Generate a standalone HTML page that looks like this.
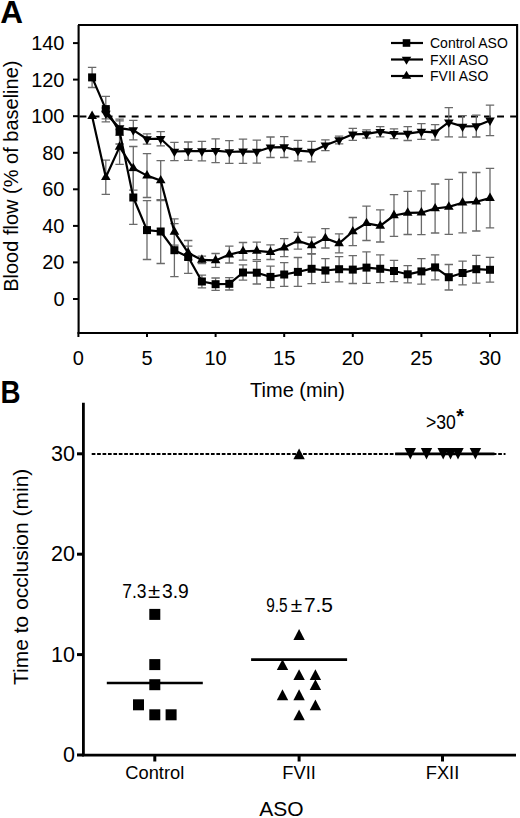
<!DOCTYPE html>
<html><head><meta charset="utf-8"><style>
html,body{margin:0;padding:0;background:#fff;}
svg{display:block;}
text{font-family:"Liberation Sans",sans-serif;font-size:20px;fill:#000;}
</style></head><body>
<svg width="520" height="818" viewBox="0 0 520 818">
<rect width="520" height="818" fill="#fff"/>
<line x1="79.5" y1="116.5" x2="516.5" y2="116.5" stroke="#000" stroke-width="2" stroke-dasharray="6.9 6.15"/>
<g stroke="#6a6a6a" stroke-width="1.3" fill="none">
<path d="M92.1 67.4V87.5M87.9 67.4h8.4M87.9 87.5h8.4"/>
<path d="M105.8 96.3V121.9M101.6 96.3h8.4M101.6 121.9h8.4"/>
<path d="M119.6 119.1V144.0M115.4 119.1h8.4M115.4 144.0h8.4"/>
<path d="M133.3 170.7V224.4M129.1 170.7h8.4M129.1 224.4h8.4"/>
<path d="M147.0 200.7V259.5M142.8 200.7h8.4M142.8 259.5h8.4"/>
<path d="M160.7 199.6V263.5M156.5 199.6h8.4M156.5 263.5h8.4"/>
<path d="M174.4 223.7V276.7M170.2 223.7h8.4M170.2 276.7h8.4"/>
<path d="M188.2 240.5V273.4M184.0 240.5h8.4M184.0 273.4h8.4"/>
<path d="M201.9 275.1V287.8M197.7 275.1h8.4M197.7 287.8h8.4"/>
<path d="M215.6 278.0V290.4M211.4 278.0h8.4M211.4 290.4h8.4"/>
<path d="M229.3 277.6V290.0M225.1 277.6h8.4M225.1 290.0h8.4"/>
<path d="M243.0 264.8V280.2M238.8 264.8h8.4M238.8 280.2h8.4"/>
<path d="M256.8 261.3V284.0M252.6 261.3h8.4M252.6 284.0h8.4"/>
<path d="M270.5 266.1V287.7M266.3 266.1h8.4M266.3 287.7h8.4"/>
<path d="M284.2 262.6V286.4M280.0 262.6h8.4M280.0 286.4h8.4"/>
<path d="M297.9 257.5V286.4M293.7 257.5h8.4M293.7 286.4h8.4"/>
<path d="M311.6 254.0V283.6M307.4 254.0h8.4M307.4 283.6h8.4"/>
<path d="M325.4 258.6V282.4M321.2 258.6h8.4M321.2 282.4h8.4"/>
<path d="M339.1 256.6V281.8M334.9 256.6h8.4M334.9 281.8h8.4"/>
<path d="M352.8 255.7V283.5M348.6 255.7h8.4M348.6 283.5h8.4"/>
<path d="M366.5 251.8V283.3M362.3 251.8h8.4M362.3 283.3h8.4"/>
<path d="M380.2 254.9V282.7M376.0 254.9h8.4M376.0 282.7h8.4"/>
<path d="M394.0 260.4V281.6M389.8 260.4h8.4M389.8 281.6h8.4"/>
<path d="M407.7 265.7V282.9M403.5 265.7h8.4M403.5 282.9h8.4"/>
<path d="M421.4 258.6V284.2M417.2 258.6h8.4M417.2 284.2h8.4"/>
<path d="M435.1 254.9V279.8M430.9 254.9h8.4M430.9 279.8h8.4"/>
<path d="M448.8 264.5V290.0M444.6 264.5h8.4M444.6 290.0h8.4"/>
<path d="M462.6 261.2V284.9M458.4 261.2h8.4M458.4 284.9h8.4"/>
<path d="M476.3 255.3V283.1M472.1 255.3h8.4M472.1 283.1h8.4"/>
<path d="M490.0 257.3V282.2M485.8 257.3h8.4M485.8 282.2h8.4"/>
<path d="M105.8 108.0V118.9M101.6 108.0h8.4M101.6 118.9h8.4"/>
<path d="M119.6 120.8V135.4M115.4 120.8h8.4M115.4 135.4h8.4"/>
<path d="M133.3 120.4V139.8M129.1 120.4h8.4M129.1 139.8h8.4"/>
<path d="M147.0 133.9V144.2M142.8 133.9h8.4M142.8 144.2h8.4"/>
<path d="M160.7 131.6V145.8M156.5 131.6h8.4M156.5 145.8h8.4"/>
<path d="M174.4 142.3V160.6M170.2 142.3h8.4M170.2 160.6h8.4"/>
<path d="M188.2 142.0V160.3M184.0 142.0h8.4M184.0 160.3h8.4"/>
<path d="M201.9 141.4V160.8M197.7 141.4h8.4M197.7 160.8h8.4"/>
<path d="M215.6 138.9V162.6M211.4 138.9h8.4M211.4 162.6h8.4"/>
<path d="M229.3 140.7V163.4M225.1 140.7h8.4M225.1 163.4h8.4"/>
<path d="M243.0 139.2V163.4M238.8 139.2h8.4M238.8 163.4h8.4"/>
<path d="M256.8 140.1V163.2M252.6 140.1h8.4M252.6 163.2h8.4"/>
<path d="M270.5 137.0V157.5M266.3 137.0h8.4M266.3 157.5h8.4"/>
<path d="M284.2 136.7V157.5M280.0 136.7h8.4M280.0 157.5h8.4"/>
<path d="M297.9 140.3V160.8M293.7 140.3h8.4M293.7 160.8h8.4"/>
<path d="M311.6 141.4V161.9M307.4 141.4h8.4M307.4 161.9h8.4"/>
<path d="M325.4 139.8V150.7M321.2 139.8h8.4M321.2 150.7h8.4"/>
<path d="M339.1 136.1V143.8M334.9 136.1h8.4M334.9 143.8h8.4"/>
<path d="M352.8 128.3V140.3M348.6 128.3h8.4M348.6 140.3h8.4"/>
<path d="M366.5 129.9V138.0M362.3 129.9h8.4M362.3 138.0h8.4"/>
<path d="M380.2 126.6V136.9M376.0 126.6h8.4M376.0 136.9h8.4"/>
<path d="M394.0 128.8V138.7M389.8 128.8h8.4M389.8 138.7h8.4"/>
<path d="M407.7 126.6V140.5M403.5 126.6h8.4M403.5 140.5h8.4"/>
<path d="M421.4 123.7V139.4M417.2 123.7h8.4M417.2 139.4h8.4"/>
<path d="M435.1 124.6V140.0M430.9 124.6h8.4M430.9 140.0h8.4"/>
<path d="M448.8 107.6V136.9M444.6 107.6h8.4M444.6 136.9h8.4"/>
<path d="M462.6 115.7V137.2M458.4 115.7h8.4M458.4 137.2h8.4"/>
<path d="M476.3 115.1V137.0M472.1 115.1h8.4M472.1 137.0h8.4"/>
<path d="M490.0 105.2V135.6M485.8 105.2h8.4M485.8 135.6h8.4"/>
<path d="M105.8 160.1V194.4M101.6 160.1h8.4M101.6 194.4h8.4"/>
<path d="M119.6 129.5V164.3M115.4 129.5h8.4M115.4 164.3h8.4"/>
<path d="M133.3 146.5V190.1M129.1 146.5h8.4M129.1 190.1h8.4"/>
<path d="M147.0 153.7V197.5M142.8 153.7h8.4M142.8 197.5h8.4"/>
<path d="M160.7 160.6V200.5M156.5 160.6h8.4M156.5 200.5h8.4"/>
<path d="M174.4 218.8V245.1M170.2 218.8h8.4M170.2 245.1h8.4"/>
<path d="M188.2 246.2V259.7M184.0 246.2h8.4M184.0 259.7h8.4"/>
<path d="M201.9 256.2V263.5M197.7 256.2h8.4M197.7 263.5h8.4"/>
<path d="M215.6 253.5V267.4M211.4 253.5h8.4M211.4 267.4h8.4"/>
<path d="M229.3 246.2V263.0M225.1 246.2h8.4M225.1 263.0h8.4"/>
<path d="M243.0 242.5V260.1M238.8 242.5h8.4M238.8 260.1h8.4"/>
<path d="M256.8 242.1V259.7M252.6 242.1h8.4M252.6 259.7h8.4"/>
<path d="M270.5 244.9V259.5M266.3 244.9h8.4M266.3 259.5h8.4"/>
<path d="M284.2 238.7V256.6M280.0 238.7h8.4M280.0 256.6h8.4"/>
<path d="M297.9 232.3V249.1M293.7 232.3h8.4M293.7 249.1h8.4"/>
<path d="M311.6 237.2V253.7M307.4 237.2h8.4M307.4 253.7h8.4"/>
<path d="M325.4 228.6V248.0M321.2 228.6h8.4M321.2 248.0h8.4"/>
<path d="M339.1 233.9V252.9M334.9 233.9h8.4M334.9 252.9h8.4"/>
<path d="M352.8 217.5V245.6M348.6 217.5h8.4M348.6 245.6h8.4"/>
<path d="M366.5 206.1V240.5M362.3 206.1h8.4M362.3 240.5h8.4"/>
<path d="M380.2 209.8V242.0M376.0 209.8h8.4M376.0 242.0h8.4"/>
<path d="M394.0 194.6V236.3M389.8 194.6h8.4M389.8 236.3h8.4"/>
<path d="M407.7 191.3V234.5M403.5 191.3h8.4M403.5 234.5h8.4"/>
<path d="M421.4 190.8V234.7M417.2 190.8h8.4M417.2 234.7h8.4"/>
<path d="M435.1 184.0V233.0M430.9 184.0h8.4M430.9 233.0h8.4"/>
<path d="M448.8 179.4V234.3M444.6 179.4h8.4M444.6 234.3h8.4"/>
<path d="M462.6 172.5V232.8M458.4 172.5h8.4M458.4 232.8h8.4"/>
<path d="M476.3 172.5V231.0M472.1 172.5h8.4M472.1 231.0h8.4"/>
<path d="M490.0 168.3V227.9M485.8 168.3h8.4M485.8 227.9h8.4"/>
</g>
<g stroke="#000" stroke-width="2.2" fill="none" stroke-linejoin="round">
<polyline points="92.1,77.4 105.8,109.1 119.6,131.6 133.3,197.5 147.0,230.1 160.7,231.5 174.4,250.2 188.2,257.0 201.9,281.5 215.6,284.2 229.3,283.8 243.0,272.5 256.8,272.7 270.5,276.9 284.2,274.5 297.9,271.9 311.6,268.8 325.4,270.5 339.1,269.2 352.8,269.6 366.5,267.6 380.2,268.8 394.0,271.0 407.7,274.3 421.4,271.4 435.1,267.4 448.8,277.2 462.6,273.0 476.3,269.2 490.0,269.8"/>
<polyline points="105.8,113.5 119.6,128.1 133.3,130.1 147.0,139.0 160.7,138.7 174.4,151.5 188.2,151.1 201.9,151.1 215.6,150.7 229.3,152.0 243.0,151.3 256.8,151.7 270.5,147.3 284.2,147.1 297.9,150.6 311.6,151.7 325.4,145.3 339.1,140.0 352.8,134.3 366.5,133.9 380.2,131.7 394.0,133.7 407.7,133.6 421.4,131.6 435.1,132.3 448.8,122.2 462.6,126.4 476.3,126.1 490.0,120.4"/>
<polyline points="92.1,116.2 105.8,177.3 119.6,146.9 133.3,168.3 147.0,175.6 160.7,180.5 174.4,231.9 188.2,252.9 201.9,259.9 215.6,260.4 229.3,254.6 243.0,251.3 256.8,250.9 270.5,252.2 284.2,247.6 297.9,240.7 311.6,245.4 325.4,238.3 339.1,243.4 352.8,231.5 366.5,223.3 380.2,225.9 394.0,215.5 407.7,212.9 421.4,212.7 435.1,208.5 448.8,206.9 462.6,202.7 476.3,201.8 490.0,198.1"/>
</g>
<g fill="#000">
<rect x="88.1" y="73.4" width="8" height="8"/>
<rect x="101.8" y="105.1" width="8" height="8"/>
<rect x="115.6" y="127.6" width="8" height="8"/>
<rect x="129.3" y="193.5" width="8" height="8"/>
<rect x="143.0" y="226.1" width="8" height="8"/>
<rect x="156.7" y="227.5" width="8" height="8"/>
<rect x="170.4" y="246.2" width="8" height="8"/>
<rect x="184.2" y="253.0" width="8" height="8"/>
<rect x="197.9" y="277.5" width="8" height="8"/>
<rect x="211.6" y="280.2" width="8" height="8"/>
<rect x="225.3" y="279.8" width="8" height="8"/>
<rect x="239.0" y="268.5" width="8" height="8"/>
<rect x="252.8" y="268.7" width="8" height="8"/>
<rect x="266.5" y="272.9" width="8" height="8"/>
<rect x="280.2" y="270.5" width="8" height="8"/>
<rect x="293.9" y="267.9" width="8" height="8"/>
<rect x="307.6" y="264.8" width="8" height="8"/>
<rect x="321.4" y="266.5" width="8" height="8"/>
<rect x="335.1" y="265.2" width="8" height="8"/>
<rect x="348.8" y="265.6" width="8" height="8"/>
<rect x="362.5" y="263.6" width="8" height="8"/>
<rect x="376.2" y="264.8" width="8" height="8"/>
<rect x="390.0" y="267.0" width="8" height="8"/>
<rect x="403.7" y="270.3" width="8" height="8"/>
<rect x="417.4" y="267.4" width="8" height="8"/>
<rect x="431.1" y="263.4" width="8" height="8"/>
<rect x="444.8" y="273.2" width="8" height="8"/>
<rect x="458.6" y="269.0" width="8" height="8"/>
<rect x="472.3" y="265.2" width="8" height="8"/>
<rect x="486.0" y="265.8" width="8" height="8"/>
<path d="M105.84 119.06L110.64 110.66H101.04Z"/>
<path d="M119.56 133.68L124.36 125.28H114.76Z"/>
<path d="M133.28 135.69L138.08 127.29H128.48Z"/>
<path d="M147.00 144.65L151.80 136.25H142.20Z"/>
<path d="M160.72 144.28L165.52 135.88H155.92Z"/>
<path d="M174.44 157.08L179.24 148.68H169.64Z"/>
<path d="M188.16 156.71L192.96 148.31H183.36Z"/>
<path d="M201.88 156.71L206.68 148.31H197.08Z"/>
<path d="M215.60 156.35L220.40 147.95H210.80Z"/>
<path d="M229.32 157.63L234.12 149.23H224.52Z"/>
<path d="M243.04 156.90L247.84 148.50H238.24Z"/>
<path d="M256.76 157.26L261.56 148.86H251.96Z"/>
<path d="M270.48 152.88L275.28 144.48H265.68Z"/>
<path d="M284.20 152.69L289.00 144.29H279.40Z"/>
<path d="M297.92 156.17L302.72 147.77H293.12Z"/>
<path d="M311.64 157.26L316.44 148.86H306.84Z"/>
<path d="M325.36 150.87L330.16 142.47H320.56Z"/>
<path d="M339.08 145.56L343.88 137.16H334.28Z"/>
<path d="M352.80 139.90L357.60 131.50H348.00Z"/>
<path d="M366.52 139.53L371.32 131.13H361.72Z"/>
<path d="M380.24 137.34L385.04 128.94H375.44Z"/>
<path d="M393.96 139.35L398.76 130.95H389.16Z"/>
<path d="M407.68 139.17L412.48 130.77H402.88Z"/>
<path d="M421.40 137.16L426.20 128.76H416.60Z"/>
<path d="M435.12 137.89L439.92 129.49H430.32Z"/>
<path d="M448.84 127.83L453.64 119.43H444.04Z"/>
<path d="M462.56 132.04L467.36 123.64H457.76Z"/>
<path d="M476.28 131.67L481.08 123.27H471.48Z"/>
<path d="M490.00 126.00L494.80 117.60H485.20Z"/>
<path d="M92.12 110.60L96.92 119.00H87.32Z"/>
<path d="M105.84 171.66L110.64 180.06H101.04Z"/>
<path d="M119.56 141.31L124.36 149.71H114.76Z"/>
<path d="M133.28 162.70L138.08 171.10H128.48Z"/>
<path d="M147.00 170.01L151.80 178.41H142.20Z"/>
<path d="M160.72 174.95L165.52 183.35H155.92Z"/>
<path d="M174.44 226.31L179.24 234.71H169.64Z"/>
<path d="M188.16 247.33L192.96 255.73H183.36Z"/>
<path d="M201.88 254.28L206.68 262.68H197.08Z"/>
<path d="M215.60 254.83L220.40 263.23H210.80Z"/>
<path d="M229.32 248.98L234.12 257.38H224.52Z"/>
<path d="M243.04 245.69L247.84 254.09H238.24Z"/>
<path d="M256.76 245.32L261.56 253.72H251.96Z"/>
<path d="M270.48 246.60L275.28 255.00H265.68Z"/>
<path d="M284.20 242.03L289.00 250.43H279.40Z"/>
<path d="M297.92 235.09L302.72 243.49H293.12Z"/>
<path d="M311.64 239.84L316.44 248.24H306.84Z"/>
<path d="M325.36 232.71L330.16 241.11H320.56Z"/>
<path d="M339.08 237.83L343.88 246.23H334.28Z"/>
<path d="M352.80 225.95L357.60 234.35H348.00Z"/>
<path d="M366.52 217.72L371.32 226.12H361.72Z"/>
<path d="M380.24 220.28L385.04 228.68H375.44Z"/>
<path d="M393.96 209.86L398.76 218.26H389.16Z"/>
<path d="M407.68 207.30L412.48 215.70H402.88Z"/>
<path d="M421.40 207.12L426.20 215.52H416.60Z"/>
<path d="M435.12 202.91L439.92 211.31H430.32Z"/>
<path d="M448.84 201.27L453.64 209.67H444.04Z"/>
<path d="M462.56 197.06L467.36 205.46H457.76Z"/>
<path d="M476.28 196.15L481.08 204.55H471.48Z"/>
<path d="M490.00 192.49L494.80 200.89H485.20Z"/>
</g>
<path d="M78.6 25V334M78 333H518M517.1 334V25H78" stroke="#000" stroke-width="2.1" fill="none"/>
<path d="M73 299.0H79" stroke="#000" stroke-width="2"/>
<text x="64.5" y="306.0" text-anchor="end">0</text>
<path d="M73 262.4H79" stroke="#000" stroke-width="2"/>
<text x="64.5" y="269.4" text-anchor="end">20</text>
<path d="M73 225.9H79" stroke="#000" stroke-width="2"/>
<text x="64.5" y="232.9" text-anchor="end">40</text>
<path d="M73 189.3H79" stroke="#000" stroke-width="2"/>
<text x="64.5" y="196.3" text-anchor="end">60</text>
<path d="M73 152.8H79" stroke="#000" stroke-width="2"/>
<text x="64.5" y="159.8" text-anchor="end">80</text>
<path d="M73 116.2H79" stroke="#000" stroke-width="2"/>
<text x="64.5" y="123.2" text-anchor="end">100</text>
<path d="M73 79.6H79" stroke="#000" stroke-width="2"/>
<text x="64.5" y="86.6" text-anchor="end">120</text>
<path d="M73 43.1H79" stroke="#000" stroke-width="2"/>
<text x="64.5" y="50.1" text-anchor="end">140</text>
<path d="M78.4 332V337" stroke="#000" stroke-width="2"/>
<text x="78.4" y="365" text-anchor="middle">0</text>
<path d="M147.0 332V337" stroke="#000" stroke-width="2"/>
<text x="147.0" y="365" text-anchor="middle">5</text>
<path d="M215.6 332V337" stroke="#000" stroke-width="2"/>
<text x="215.6" y="365" text-anchor="middle">10</text>
<path d="M284.2 332V337" stroke="#000" stroke-width="2"/>
<text x="284.2" y="365" text-anchor="middle">15</text>
<path d="M352.8 332V337" stroke="#000" stroke-width="2"/>
<text x="352.8" y="365" text-anchor="middle">20</text>
<path d="M421.4 332V337" stroke="#000" stroke-width="2"/>
<text x="421.4" y="365" text-anchor="middle">25</text>
<path d="M490.0 332V337" stroke="#000" stroke-width="2"/>
<text x="490.0" y="365" text-anchor="middle">30</text>
<text x="297.5" y="397.3" text-anchor="middle">Time (min)</text>
<text transform="translate(17.5 176.2) rotate(-90)" text-anchor="middle">Blood flow (% of baseline)</text>
<path d="M391 43H423" stroke="#000" stroke-width="2.2"/>
<rect x="402.7" y="39.2" width="7.6" height="7.6"/>
<text x="430" y="48" style="font-size:14px">Control ASO</text>
<path d="M391 59.5H423" stroke="#000" stroke-width="2.2"/>
<path d="M406.50 64.83L411.25 56.83H401.75Z"/>
<text x="430" y="64.5" style="font-size:14px">FXII ASO</text>
<path d="M391 76H423" stroke="#000" stroke-width="2.2"/>
<path d="M406.50 70.67L411.25 78.67H401.75Z"/>
<text x="430" y="81" style="font-size:14px">FVII ASO</text>
<text x="0.3" y="23" style="font-size:31.5px" font-weight="bold">A</text>
<text transform="translate(0.4 403.3) scale(0.91 1)" style="font-size:30.5px" font-weight="bold">B</text>
<line x1="91.7" y1="453.9" x2="505.5" y2="453.9" stroke="#000" stroke-width="2" stroke-dasharray="3.7 1.72"/>
<path d="M83.4 402.8V756.3M82 755.1H516" stroke="#000" stroke-width="2.8" fill="none"/>
<path d="M77 755.0H84" stroke="#000" stroke-width="3"/>
<text x="74.9" y="762.0" text-anchor="end" style="font-size:21.5px">0</text>
<path d="M77 654.6H84" stroke="#000" stroke-width="3"/>
<text x="74.9" y="661.6" text-anchor="end" style="font-size:21.5px">10</text>
<path d="M77 554.2H84" stroke="#000" stroke-width="3"/>
<text x="74.9" y="561.2" text-anchor="end" style="font-size:21.5px">20</text>
<path d="M77 453.8H84" stroke="#000" stroke-width="3"/>
<text x="74.9" y="460.8" text-anchor="end" style="font-size:21.5px">30</text>
<path d="M154.8 755V761.5" stroke="#000" stroke-width="3"/>
<text x="154.8" y="779" text-anchor="middle" style="font-size:18.3px">Control</text>
<path d="M299.1 755V761.5" stroke="#000" stroke-width="3"/>
<text x="299.1" y="779" text-anchor="middle" style="font-size:18.3px">FVII</text>
<path d="M442.5 755V761.5" stroke="#000" stroke-width="3"/>
<text x="442.5" y="779" text-anchor="middle" style="font-size:18.3px">FXII</text>
<text x="281.5" y="816" text-anchor="middle" style="font-size:21px">ASO</text>
<text transform="translate(27.5 576.8) rotate(-90)" text-anchor="middle" style="font-size:21px">Time to occlusion (min)</text>
<path d="M106.80000000000001 683.0H202.8" stroke="#000" stroke-width="2.6"/>
<path d="M251.10000000000002 659.6H347.1" stroke="#000" stroke-width="2.6"/>
<path d="M395.2 453.9H494.5" stroke="#000" stroke-width="2.6"/>
<rect x="149.3" y="608.9" width="11" height="11"/>
<rect x="149.3" y="659.1" width="11" height="11"/>
<rect x="149.3" y="679.2" width="11" height="11"/>
<rect x="133.0" y="699.3" width="11" height="11"/>
<rect x="149.3" y="709.3" width="11" height="11"/>
<rect x="165.6" y="709.3" width="11" height="11"/>
<path d="M299.10 448.40L304.80 459.20H293.40Z"/>
<path d="M299.10 629.12L304.80 639.92H293.40Z"/>
<path d="M282.50 659.24L288.20 670.04H276.80Z"/>
<path d="M299.10 669.28L304.80 680.08H293.40Z"/>
<path d="M315.40 669.28L321.10 680.08H309.70Z"/>
<path d="M315.40 679.32L321.10 690.12H309.70Z"/>
<path d="M282.50 689.36L288.20 700.16H276.80Z"/>
<path d="M299.10 689.36L304.80 700.16H293.40Z"/>
<path d="M315.40 699.40L321.10 710.20H309.70Z"/>
<path d="M299.10 709.44L304.80 720.24H293.40Z"/>
<path d="M410.30 459.55L416.00 448.05H404.60Z"/>
<path d="M426.50 459.55L432.20 448.05H420.80Z"/>
<path d="M443.20 459.55L448.90 448.05H437.50Z"/>
<path d="M450.50 459.55L456.20 448.05H444.80Z"/>
<path d="M458.00 459.55L463.70 448.05H452.30Z"/>
<path d="M475.40 459.55L481.10 448.05H469.70Z"/>
<text x="122.3" y="598.3" textLength="24.2" lengthAdjust="spacingAndGlyphs" style="font-size:20.5px">7.3</text>
<text x="148.1" y="598.3" textLength="12.2" lengthAdjust="spacingAndGlyphs" style="font-size:21px">±</text>
<text x="162.0" y="598.3" textLength="26.8" lengthAdjust="spacingAndGlyphs" style="font-size:20.5px">3.9</text>
<text x="266.2" y="611.5" textLength="21.4" lengthAdjust="spacingAndGlyphs" style="font-size:20.5px">9.5</text>
<text x="290.8" y="611.5" textLength="11.4" lengthAdjust="spacingAndGlyphs" style="font-size:21px">±</text>
<text x="303.9" y="611.5" textLength="29.1" lengthAdjust="spacingAndGlyphs" style="font-size:20.5px">7.5</text>
<text transform="translate(426 428.7) scale(0.86 1)" style="font-size:20.5px">&gt;30</text><text x="456.3" y="423" style="font-size:20px" font-weight="bold">*</text>
</svg>
</body></html>
